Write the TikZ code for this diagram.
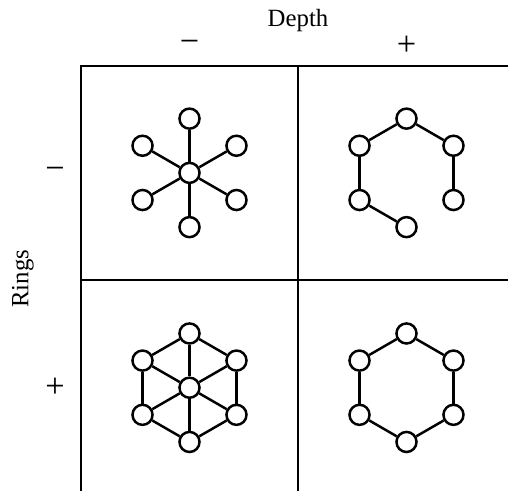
\documentclass[tikz,border=0pt]{standalone}
\usepackage{fontspec}
\setmainfont{Liberation Serif}
\begin{document}
\begin{tikzpicture}[
 atom/.style={circle,draw,line width=1.3pt,minimum size=0.37cm,inner sep=0pt,fill=white},
 bond/.style={line width=1.3pt},
 lbl/.style={font=\fontsize{13}{16}\selectfont},
 sgn/.style={font=\fontsize{18}{20}\selectfont}]
 \useasboundingbox (-1.493,0.166) rectangle (7.871,9.217);
 % table lines
 \draw[line width=0.7pt] (0,0.166) -- (0,8) -- (7.871,8);
 \draw[line width=0.7pt] (4,0.166) -- (4,8);
 \draw[line width=0.7pt] (0,4.055) -- (7.871,4.055);
 % headings
 \node[lbl] (depth) at (4,8.83) {Depth};
 \node[sgn] (dminus) at (2,8.37) {−};
 \node[sgn] (dplus) at (6,8.37) {+};
 \node[lbl,rotate=90] (rings) at (-1.07,4.08) {Rings};
 \node[sgn] (rminus) at (-0.48,6.03) {−};
 \node[sgn] (rplus) at (-0.48,2.06) {+};
 % six outer atoms in each cell
 \foreach \g/\cx/\cy in {a/2/6.03,b/6/6.03,c/2/2.07,d/6/2.07}
  \foreach \i in {1,...,6}
   \node[atom] (\g\i) at ({\cx+cos(30+60*\i)},{\cy+sin(30+60*\i)}) {};
 \node[atom] (a0) at (2,6.03) {};
 \node[atom] (c0) at (2,2.07) {};
 % spokes
 \foreach \i in {1,...,6} {\draw[bond] (a0) -- (a\i); \draw[bond] (c0) -- (c\i);}
 % rings and the open chain
 \foreach \i/\j in {1/2,2/3,3/4,4/5,5/6,6/1} {\draw[bond] (c\i) -- (c\j); \draw[bond] (d\i) -- (d\j);}
 \foreach \i/\j in {1/2,2/3,3/4,5/6,6/1} \draw[bond] (b\i) -- (b\j);
\end{tikzpicture}
\end{document}
